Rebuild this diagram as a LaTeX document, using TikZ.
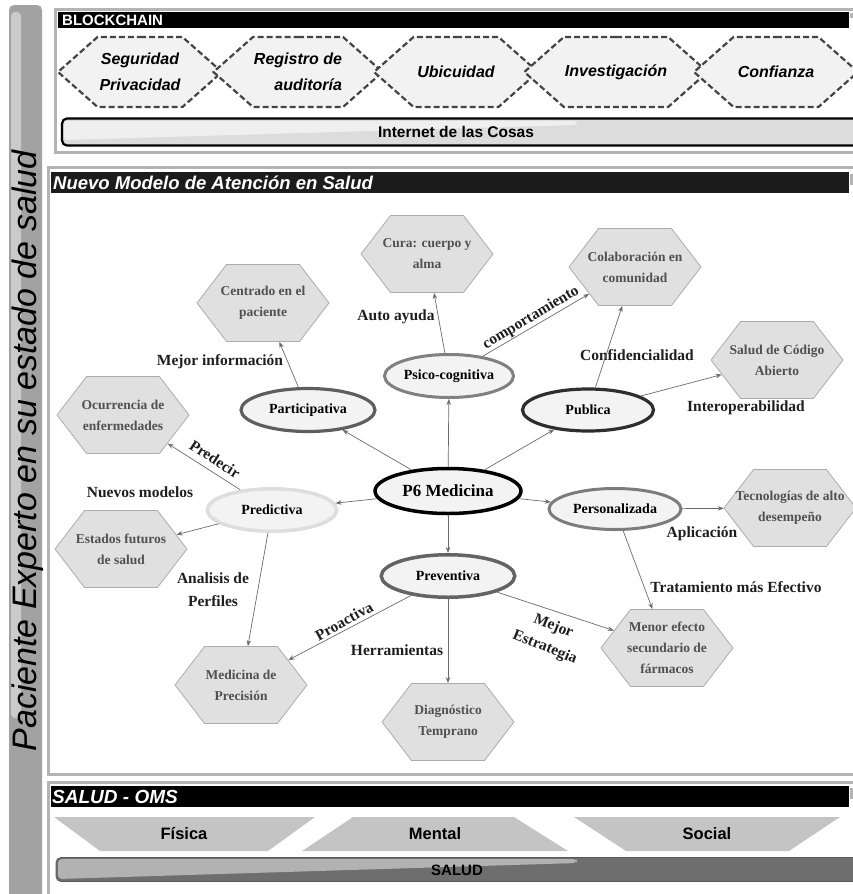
\documentclass[tikz,border=0pt]{standalone}
\usepackage{fontspec}
\setmainfont{Liberation Serif}
\setsansfont{Liberation Sans}
\usepackage{graphicx}
\usetikzlibrary{shapes.geometric,shapes.symbols,arrows.meta}
\definecolor{hexfill}{HTML}{E0E0E0}
\definecolor{hexline}{HTML}{ACACAC}
\definecolor{hextext}{HTML}{505050}
\definecolor{bfill}{HTML}{F2F2F2}
\definecolor{bline}{HTML}{444444}
\definecolor{ellfill}{HTML}{F3F3F3}
\definecolor{edgecol}{HTML}{6A6A6A}
\definecolor{lbltext}{HTML}{1E1E1E}
\definecolor{framecol}{HTML}{B4B4B4}
\definecolor{barmid}{HTML}{A2A2A2}
\definecolor{barlight}{HTML}{CACACA}
\definecolor{hdrdark}{HTML}{1C1C1C}
\definecolor{trapcol}{HTML}{C4C4C4}
\definecolor{iotfill}{HTML}{DCDCDC}
\definecolor{iotlight}{HTML}{EFEFEF}
\definecolor{saluddark}{HTML}{6E6E6E}
\definecolor{saludlight}{HTML}{B2B2B2}
\definecolor{cpsico}{HTML}{808080}
\definecolor{cpart}{HTML}{5E5E5E}
\definecolor{cpub}{HTML}{2E2E2E}
\definecolor{cpred}{HTML}{DEDEDE}
\definecolor{cpers}{HTML}{7C7C7C}
\definecolor{cprev}{HTML}{646464}
\newcommand{\zc}[1]{\makebox[0pt]{#1}}
\begin{document}
\begin{tikzpicture}[x=1pt,y=-1pt,
  hexm/.style={signal, signal to=east and west, signal pointer angle=105,
    fill=hexfill, draw=hexline, line width=0.8pt, minimum width=132pt,
    minimum height=77pt, inner sep=1pt, align=center, text=hextext,
    font=\bfseries\fontsize{13.5}{21}\selectfont},
  hexb/.style={signal, signal to=east and west, signal pointer angle=83,
    fill=bfill, draw=bline, line width=2.2pt, dash pattern=on 6pt off 3pt,
    minimum width=164pt, minimum height=70pt, inner sep=1pt,
    font=\sffamily\bfseries\itshape\fontsize{16}{26}\selectfont},
  ell/.style={ellipse, fill=ellfill, inner sep=0pt,
    font=\bfseries\fontsize{14}{16}\selectfont},
  lbl/.style={font=\bfseries\fontsize{15.5}{23}\selectfont, text=lbltext,
    align=center, inner sep=0pt},
  conn/.style={draw=edgecol, line width=0.7pt, -{Stealth[length=6pt,width=4.5pt]}},
  frame/.style={draw=framecol, line width=3pt},
  hdrtext/.style={anchor=west, text=white, inner sep=0pt},
  traptext/.style={font=\sffamily\bfseries\fontsize{16.5}{18}\selectfont},
]
\useasboundingbox (0,0) rectangle (853,894);
\clip (0,0) rectangle (853,894);

% ---- left vertical bar
\fill[barmid, rounded corners=5pt] (9,5) rectangle (42,910);
\fill[barlight, rounded corners=4pt] (11,12) rectangle (21,718);
\node[rotate=90, font=\sffamily\itshape\fontsize{34}{34}\selectfont, inner sep=0pt] (side) at (28,451) {Paciente Experto en su estado de salud};

% ---- panel 1: BLOCKCHAIN
\draw[frame] (55,9) rectangle (870,152);
\fill[black] (58,12) rectangle (849,28);
\fill[framecol] (850,13) rectangle (853,18);
\node[hdrtext, font=\sffamily\bfseries\fontsize{15}{15}\selectfont] (bch) at (62,20.5) {BLOCKCHAIN};

\node[hexb, align=center] (seg) at (140,72) {Seguridad\\Privacidad};
\node[hexb, align=right] (reg) at (298,72) {Registro de\\auditoría};
\node[hexb] (ubi) at (456,72) {Ubicuidad};
\node[hexb] (inv) at (616,72) {Investigación};
\node[hexb] (conf) at (776,72) {Confianza};

\node[draw=black, line width=2.2pt, rounded corners=5pt, fill=iotfill,
  minimum width=798pt, minimum height=27pt, inner sep=0pt] (iot) at (461,132) {};
\fill[iotlight, rounded corners=3pt] (64,121) -- (577,121) -- (577,125) -- (64,140) -- cycle;
\node[font=\sffamily\bfseries\fontsize{15.5}{16}\selectfont] (iottext) at (456,132) {Internet de las Cosas};

% ---- panel 2: Nuevo Modelo
\draw[frame] (48,167) rectangle (870,774);
\fill[hdrdark] (51,172) rectangle (849,193);
\fill[framecol] (850,174) rectangle (853,185);
\node[hdrtext, font=\sffamily\bfseries\itshape\fontsize{18.5}{18.5}\selectfont] (nm) at (53,182.5) {Nuevo Modelo de Atención en Salud};

% ellipses
\node[ell, draw=black, line width=3.5pt, minimum width=146pt, minimum height=45pt,
  font=\bfseries\fontsize{17}{20}\selectfont] (p6) at (448,491) {P6 Medicina};
\node[ell, draw=cpsico, line width=3pt, minimum width=129pt, minimum height=43pt] (psico) at (449,376) {Psico-cognitiva};
\node[ell, draw=cpart, line width=3.2pt, minimum width=134pt, minimum height=43pt] (part) at (308,410) {Participativa};
\node[ell, draw=cpub, line width=3.2pt, minimum width=131pt, minimum height=42pt] (pub) at (588,410) {Publica};
\node[ell, draw=cpred, line width=3.5pt, minimum width=129.5pt, minimum height=42.5pt] (pred) at (272,510) {Predictiva};
\node[ell, draw=cpers, line width=3pt, minimum width=132pt, minimum height=41pt] (pers) at (615,509) {Personalizada};
\node[ell, draw=cprev, line width=3.5pt, minimum width=133.5pt, minimum height=42.5pt] (prev) at (448,576) {Preventiva};

% hexagons
\node[hexm] (cura) at (427,254) {\zc{Cura: cuerpo y}\\\zc{alma}};
\node[hexm] (centr) at (263,303) {\zc{Centrado en el}\\\zc{paciente}};
\node[hexm] (colab) at (635,267) {\zc{Colaboración en}\\\zc{comunidad}};
\node[hexm] (codigo) at (777,360) {\zc{Salud de Código}\\\zc{Abierto}};
\node[hexm] (ocurr) at (123,415) {\zc{Ocurrencia de}\\\zc{enfermedades}};
\node[hexm] (estados) at (121,549) {\zc{Estados futuros}\\\zc{de salud}};
\node[hexm] (medprec) at (241,685) {\zc{Medicina de}\\\zc{Precisión}};
\node[hexm] (diag) at (448,722) {\zc{Diagnóstico}\\\zc{Temprano}};
\node[hexm] (tecno) at (790,508) {\zc{Tecnologías de alto}\\\zc{desempeño}};
\node[hexm] (menor) at (667,648) {\zc{Menor efecto}\\\zc{secundario de}\\\zc{fármacos}};

% labels
\node[lbl] (lauto) at (396,317) {Auto ayuda};
\node[lbl] (lmejinf) at (220,362) {Mejor información};
\node[lbl, rotate=31] (lcomp) at (531,318) {comportamiento};
\node[lbl] (lconf) at (637,355) {Confidencialidad};
\node[lbl] (linter) at (746,408) {Interoperabilidad};
\node[lbl, rotate=-33] (lpred) at (215,459) {Predecir};
\node[lbl] (lnuevos) at (140,492) {Nuevos modelos};
\node[lbl] (lanal) at (213,590) {Analisis de\\Perfiles};
\node[lbl, rotate=29] (lproa) at (344,621) {Proactiva};
\node[lbl] (lherr) at (397,650) {Herramientas};
\node[lbl, rotate=-22] (lmejest) at (549,637) {Mejor\\Estrategia};
\node[lbl] (lapl) at (702,534) {Aplicación};
\node[lbl] (ltrat) at (736,587) {Tratamiento más Efectivo};

% connectors
\draw[conn] (p6) -- (psico);
\draw[conn] (p6) -- (part);
\draw[conn] (p6) -- (pub);
\draw[conn] (p6) -- (pred);
\draw[conn] (p6) -- (pers);
\draw[conn] (p6) -- (prev);
\draw[conn] (psico) -- (cura);
\draw[conn] (psico) -- (colab);
\draw[conn] (part) -- (centr);
\draw[conn] (pub) -- (colab);
\draw[conn] (pub) -- (codigo);
\draw[conn] (pred) -- (ocurr);
\draw[conn] (pred) -- (estados);
\draw[conn] (pred) -- (medprec);
\draw[conn] (prev) -- (medprec);
\draw[conn] (prev) -- (diag);
\draw[conn] (prev) -- (menor);
\draw[conn] (pers) -- (tecno);
\draw[conn] (pers) -- (menor);

% ---- panel 3: SALUD - OMS
\draw[frame] (48,782) rectangle (870,910);
\fill[black] (51,786) rectangle (849,807);
\fill[framecol] (850,788) rectangle (853,799);
\node[hdrtext, font=\sffamily\bfseries\itshape\fontsize{19}{19}\selectfont] (oms) at (52,796.5) {SALUD - OMS};

\fill[trapcol] (54,817) -- (315,817) -- (268,851) -- (100,851) -- cycle;
\fill[trapcol] (302,851) -- (353,817) -- (514,817) -- (568,851) -- cycle;
\fill[trapcol] (574,817) -- (840,817) -- (789,851) -- (626,851) -- cycle;
\node[traptext] (fisica) at (184,834) {Física};
\node[traptext] (mental) at (435,834) {Mental};
\node[traptext] (social) at (707,834) {Social};

\node[fill=saluddark, draw=saluddark!80!black, line width=0.8pt, rounded corners=5pt,
  minimum width=808pt, minimum height=24pt, inner sep=0pt] (saludbar) at (460,869.5) {};
\fill[saludlight, rounded corners=4pt] (58,859) -- (577,859) -- (577,863) -- (58,879) -- cycle;
\node[font=\sffamily\bfseries\fontsize{15}{16}\selectfont] (saludtxt) at (457,870) {SALUD};
\end{tikzpicture}
\end{document}
